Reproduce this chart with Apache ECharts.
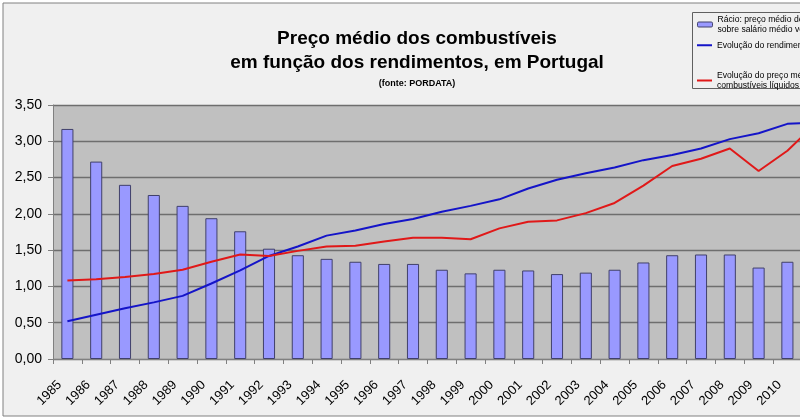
<!DOCTYPE html>
<html>
<head>
<meta charset="utf-8">
<script src="https://cdn.jsdelivr.net/npm/echarts@6/dist/echarts.min.js"></script>
<style>
html,body{margin:0;padding:0;background:#ffffff;}
#c{width:800px;height:420px;}
</style>
</head>
<body>
<div id="c"></div>
<script>
var categories = ['1985','1986','1987','1988','1989','1990','1991','1992','1993','1994','1995','1996','1997','1998','1999','2000','2001','2002','2003','2004','2005','2006','2007','2008','2009','2010','2011'];
var racio = [3.17,2.72,2.40,2.26,2.11,1.94,1.76,1.52,1.43,1.38,1.34,1.31,1.31,1.23,1.18,1.23,1.22,1.17,1.19,1.23,1.33,1.43,1.44,1.44,1.26,1.34,1.40];
var rendimento = [0.52,0.61,0.70,0.78,0.87,1.04,1.22,1.42,1.55,1.70,1.77,1.86,1.93,2.03,2.11,2.20,2.35,2.47,2.56,2.64,2.74,2.81,2.90,3.03,3.11,3.24,3.26];
var precoComb = [1.08,1.10,1.13,1.17,1.23,1.34,1.44,1.42,1.49,1.55,1.56,1.62,1.67,1.67,1.65,1.80,1.89,1.91,2.01,2.15,2.39,2.66,2.76,2.90,2.59,2.87,3.25];
var yTicks = [0, 0.5, 1, 1.5, 2, 2.5, 3, 3.5];

var nameBar = 'Rácio: preço médio dos combustíveis\nsobre salário médio verificado';
var nameBlue = 'Evolução do rendimento médio';
var nameRed = 'Evolução do preço médio dos\ncombustíveis líquidos';

var chart = echarts.init(document.getElementById('c'), null, {renderer:'canvas'});
var legendText = {fontFamily:'Liberation Sans, Arial', fontSize:8.6, color:'#000', lineHeight:10.5};
chart.setOption({
  backgroundColor: '#ffffff',
  animation: false,
  graphic: [
    {type:'rect', z:-10, silent:true, shape:{x:3, y:3, width:830, height:413},
     style:{fill:'#f0f0f0', stroke:'#808080', lineWidth:1}},
    {type:'rect', z:10, silent:true, shape:{x:692.5, y:12.5, width:140, height:76},
     style:{fill:'#f0f0f0', stroke:'#606060', lineWidth:1}}
  ],
  title: {
    text: 'Preço médio dos combustíveis\nem função dos rendimentos, em Portugal',
    subtext: '(fonte: PORDATA)',
    left: 412, top: 22, textAlign: 'center', itemGap: 4,
    textStyle: {fontFamily:'Liberation Sans, Arial', fontWeight:'bold', fontSize:19, lineHeight:24, color:'#000'},
    subtextStyle: {fontFamily:'Liberation Sans, Arial', fontWeight:'bold', fontSize:9, color:'#000'}
  },
  legend: [
    {data:[nameBar], left:697, top:14, orient:'vertical', z:20, itemWidth:15, itemHeight:5, itemGap:0, padding:0,
     textStyle:legendText, itemStyle:{borderColor:'#40406a', borderWidth:1}},
    {data:[{name:nameBlue, icon:'rect'}], left:697, top:40, orient:'vertical', z:20, itemWidth:15, itemHeight:2, itemGap:0, padding:0,
     textStyle:legendText},
    {data:[{name:nameRed, icon:'rect'}], left:697, top:70, orient:'vertical', z:20, itemWidth:15, itemHeight:2, itemGap:0, padding:0,
     textStyle:legendText}
  ],
  grid: {left:53, top:105, height:254, width:777.6, outerBoundsMode:'none', containLabel:false,
         show:true, backgroundColor:'#c0c0c0', borderWidth:0},
  xAxis: {
    type:'category', data:categories, boundaryGap:true,
    axisLine:{lineStyle:{color:'#808080', width:1}},
    axisTick:{show:true, length:5, interval:0, lineStyle:{color:'#808080'}},
    axisLabel:{rotate:45, margin:16, padding:[0,11,0,0], fontFamily:'Liberation Sans, Arial', fontSize:13, color:'#000',
      interval:function(i){ return i < categories.length - 1; }}
  },
  yAxis: {
    type:'value', min:0, max:3.5, interval:0.5,
    axisLine:{show:true, lineStyle:{color:'#808080', width:1}},
    axisTick:{show:true, length:5, lineStyle:{color:'#808080'}},
    splitLine:{lineStyle:{color:'#6e6e6e', width:1.3}},
    axisLabel:{fontFamily:'Liberation Sans, Arial', fontSize:14, color:'#000', margin:11,
      formatter:function(v){ return v.toFixed(2).replace('.', ','); }}
  },
  series: [
    {name:nameBar, type:'bar', data:racio, barWidth:'42%',
     itemStyle:{color:'#9999ff', borderColor:'#40406a', borderWidth:1}},
    {name:nameBlue, type:'line', data:rendimento, symbol:'none', smooth:false,
     lineStyle:{color:'#1414c8', width:2}, itemStyle:{color:'#1414c8'}},
    {name:nameRed, type:'line', data:precoComb, symbol:'none', smooth:false,
     lineStyle:{color:'#e01818', width:2}, itemStyle:{color:'#e01818'}}
  ]
});
</script>
</body>
</html>
